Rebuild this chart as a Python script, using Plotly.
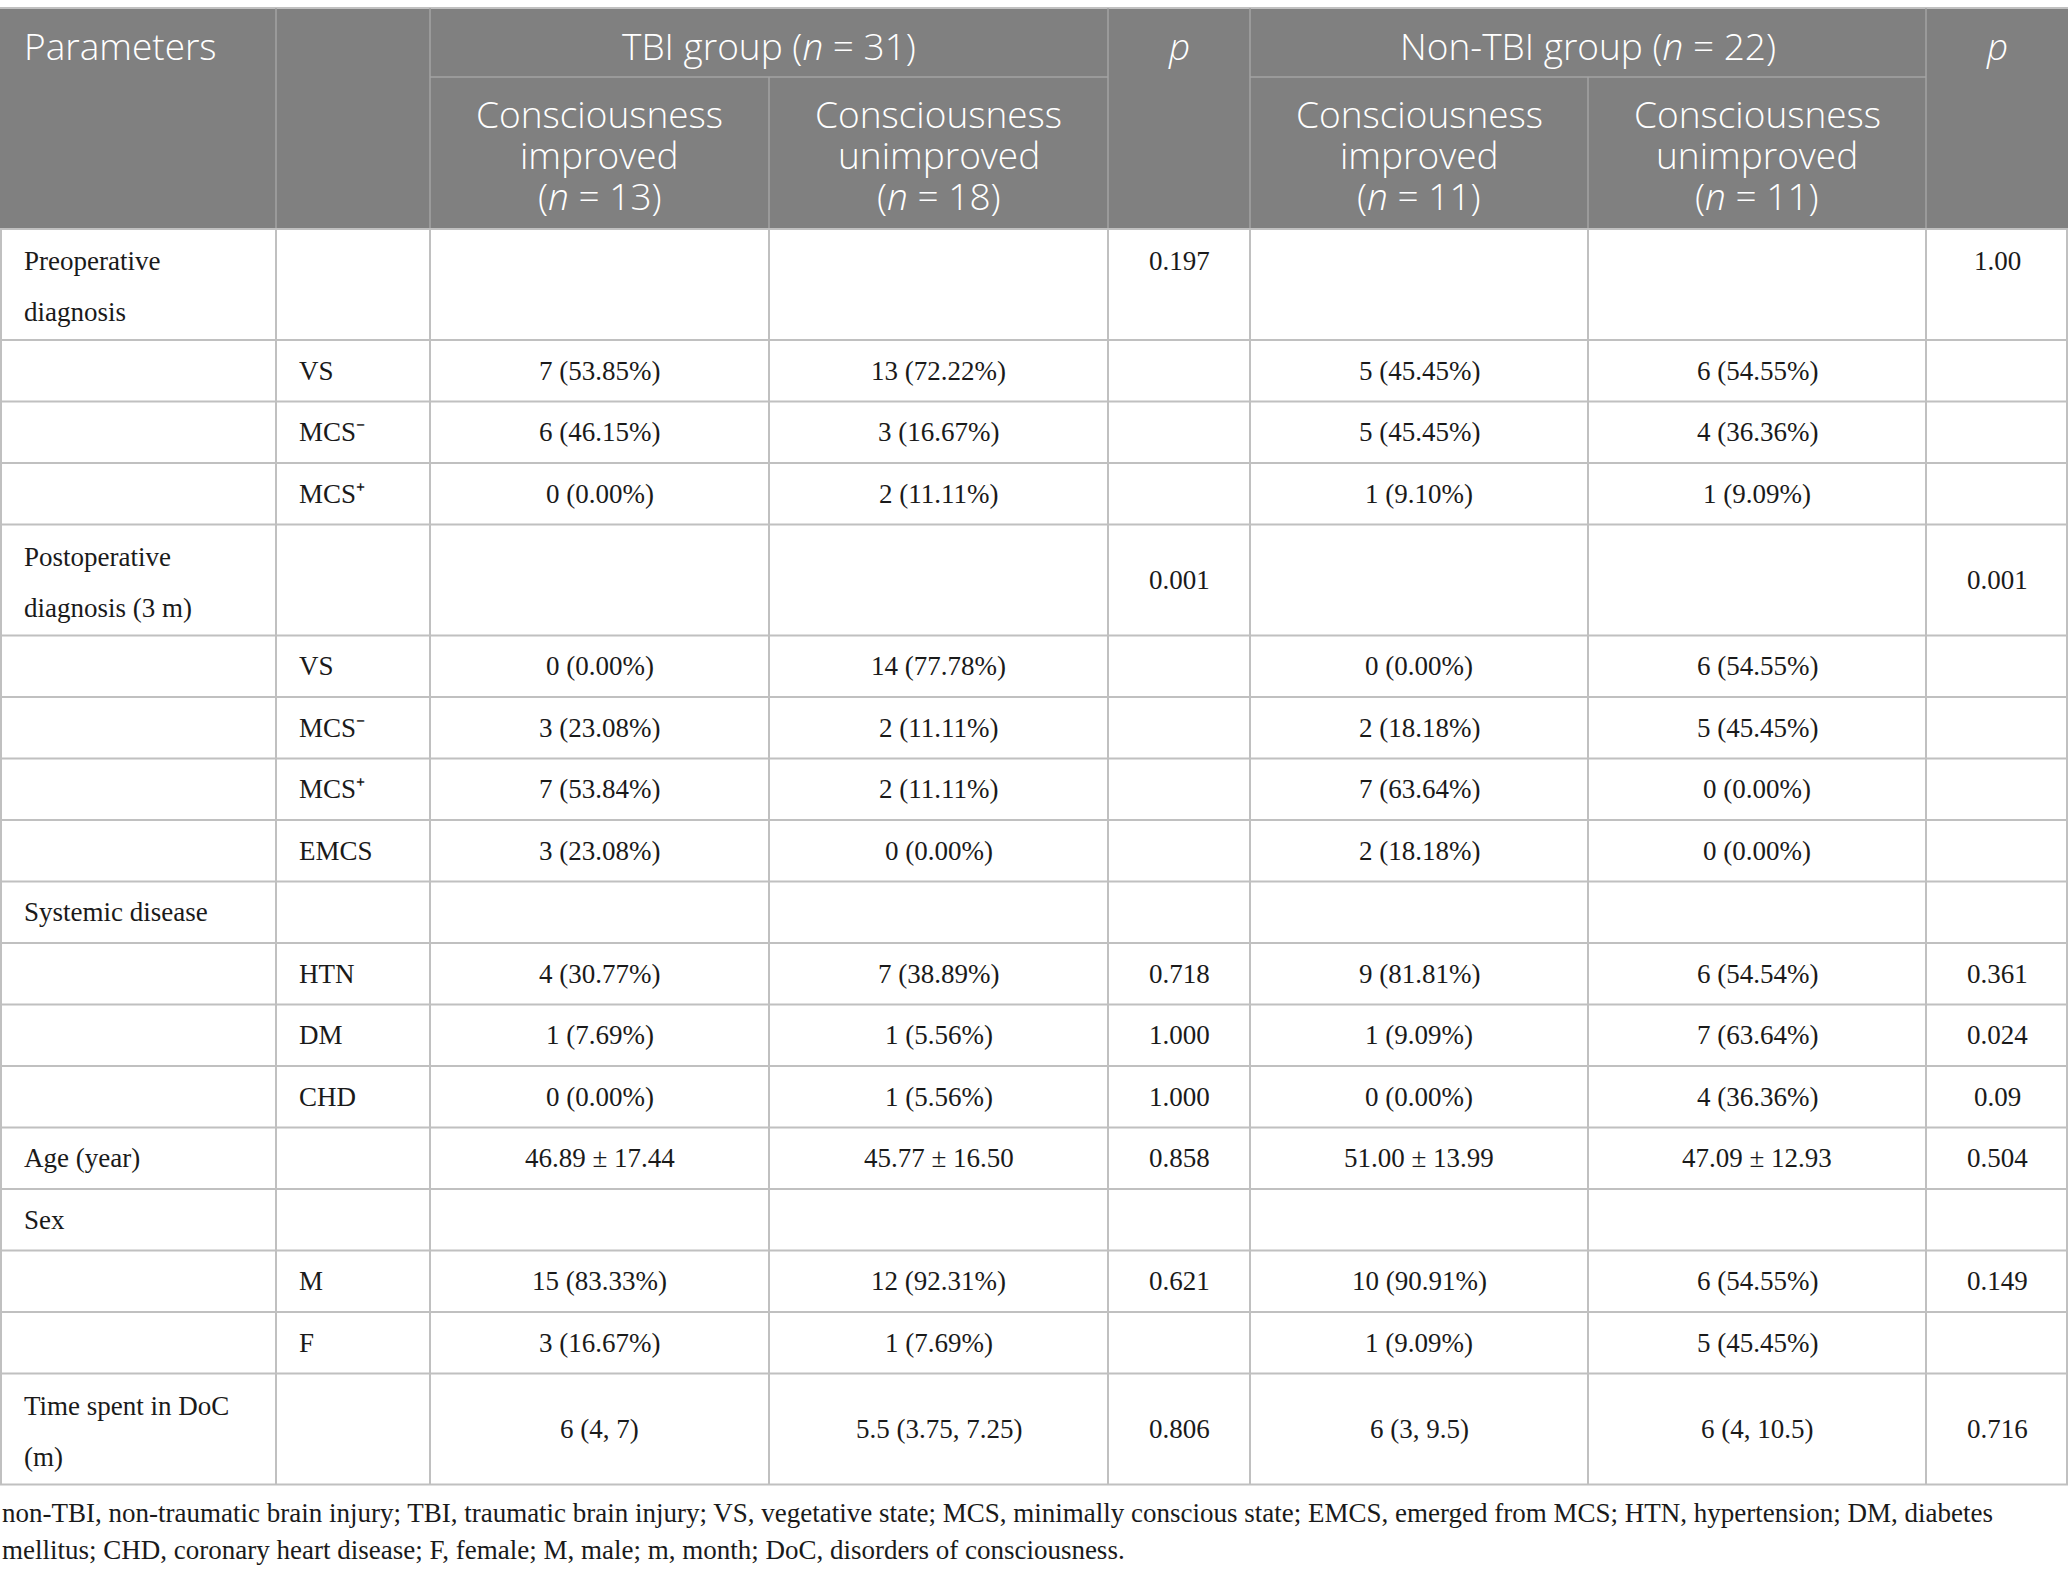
import plotly.graph_objects as go

# ---- table content ----
params = ["Preoperative\ndiagnosis", "", "", "", "Postoperative\ndiagnosis (3 m)", "", "", "", "",
          "Systemic disease", "", "", "", "Age (year)", "Sex", "", "", "Time spent in DoC\n(m)"]
sub_params = ["", "VS", "MCS⁻", "MCS⁺", "", "VS", "MCS⁻", "MCS⁺", "EMCS",
              "", "HTN", "DM", "CHD", "", "", "M", "F", ""]
tbi_improved = ["", "7 (53.85%)", "6 (46.15%)", "0 (0.00%)", "", "0 (0.00%)", "3 (23.08%)", "7 (53.84%)",
                "3 (23.08%)", "", "4 (30.77%)", "1 (7.69%)", "0 (0.00%)", "46.89 ± 17.44", "",
                "15 (83.33%)", "3 (16.67%)", "6 (4, 7)"]
tbi_unimproved = ["", "13 (72.22%)", "3 (16.67%)", "2 (11.11%)", "", "14 (77.78%)", "2 (11.11%)", "2 (11.11%)",
                  "0 (0.00%)", "", "7 (38.89%)", "1 (5.56%)", "1 (5.56%)", "45.77 ± 16.50", "",
                  "12 (92.31%)", "1 (7.69%)", "5.5 (3.75, 7.25)"]
tbi_p = ["0.197", "", "", "", "0.001", "", "", "", "", "", "0.718", "1.000", "1.000", "0.858", "",
         "0.621", "", "0.806"]
non_improved = ["", "5 (45.45%)", "5 (45.45%)", "1 (9.10%)", "", "0 (0.00%)", "2 (18.18%)", "7 (63.64%)",
                "2 (18.18%)", "", "9 (81.81%)", "1 (9.09%)", "0 (0.00%)", "51.00 ± 13.99", "",
                "10 (90.91%)", "1 (9.09%)", "6 (3, 9.5)"]
non_unimproved = ["", "6 (54.55%)", "4 (36.36%)", "1 (9.09%)", "", "6 (54.55%)", "5 (45.45%)", "0 (0.00%)",
                  "0 (0.00%)", "", "6 (54.54%)", "7 (63.64%)", "4 (36.36%)", "47.09 ± 12.93", "",
                  "6 (54.55%)", "5 (45.45%)", "6 (4, 10.5)"]
non_p = ["1.00", "", "", "", "0.001", "", "", "", "", "", "0.361", "0.024", "0.09", "0.504", "",
         "0.149", "", "0.716"]

group_titles = ["TBI group (<i>n</i> = 31)", "Non-TBI group (<i>n</i> = 22)"]
sub_headers = [["Consciousness", "improved", "(<i>n</i> = 13)"],
               ["Consciousness", "unimproved", "(<i>n</i> = 18)"],
               ["Consciousness", "improved", "(<i>n</i> = 11)"],
               ["Consciousness", "unimproved", "(<i>n</i> = 11)"]]
footnote = ["non-TBI, non-traumatic brain injury; TBI, traumatic brain injury; VS, vegetative state; MCS, "
            "minimally conscious state; EMCS, emerged from MCS; HTN, hypertension; DM, diabetes",
            "mellitus; CHD, coronary heart disease; F, female; M, male; m, month; DoC, disorders of consciousness."]

# ---- geometry (pixels) ----
W, H = 2068, 1578
col_edges = [0, 276, 430, 769, 1108, 1250, 1588, 1926, 2068]
head_top, head_mid, head_bot = 8, 77, 229
short_h, tall_h = 61.5, 111
row_tall = [len(p.split("\n")) > 1 for p in params]
p_top_rows = {0}          # p value sits on the first text line in these rows

row_edges = [head_bot]
for t in row_tall:
    row_edges.append(row_edges[-1] + (tall_h if t else short_h))

HEAD_BG = "#808080"
HEAD_LINE = "#a3a3a3"
GRID = "#c0c0c0"
SANS = "Open Sans"
SERIF = "Liberation Serif"
BODY_SIZE = 27
HEAD_SIZE = 37

fig = go.Figure()
shapes = []
annotations = []


def hline(y, x0, x1, color, width):
    shapes.append(dict(type="line", xref="x", yref="y", x0=x0, x1=x1, y0=y, y1=y,
                       line=dict(color=color, width=width)))


def vline(x, y0, y1, color, width):
    shapes.append(dict(type="line", xref="x", yref="y", x0=x, x1=x, y0=y0, y1=y1,
                       line=dict(color=color, width=width)))


def text(x, y, s, anchor="center", font=SERIF, size=BODY_SIZE, color="#1a1a1a", weight=None):
    f = dict(family=font, size=size, color=color)
    if weight:
        f["weight"] = weight
    annotations.append(dict(x=x, y=y, xref="x", yref="y", text=s, showarrow=False,
                            xanchor=anchor, yanchor="middle", font=f))


def head_text(x, y, s, anchor="center"):
    text(x, y, s, anchor, SANS, HEAD_SIZE, "white", weight=300)


# header block
shapes.append(dict(type="rect", xref="x", yref="y", x0=0, x1=W, y0=head_top, y1=head_bot,
                   fillcolor=HEAD_BG, line=dict(width=0), layer="below"))
hline(head_top, 0, W, GRID, 2)
for x in [col_edges[1], col_edges[2], col_edges[4], col_edges[5], col_edges[7]]:
    vline(x, head_top, head_bot, HEAD_LINE, 1.5)
for x in [col_edges[3], col_edges[6]]:
    vline(x, head_mid, head_bot, HEAD_LINE, 1.5)
hline(head_mid, col_edges[2], col_edges[4], HEAD_LINE, 1.5)
hline(head_mid, col_edges[5], col_edges[7], HEAD_LINE, 1.5)

centers = [(col_edges[i] + col_edges[i + 1]) / 2 for i in range(len(col_edges) - 1)]
head_row1 = 45
head_text(22, head_row1, "Parameters", "left")
head_text((col_edges[2] + col_edges[4]) / 2, head_row1, group_titles[0])
head_text((col_edges[5] + col_edges[7]) / 2, head_row1, group_titles[1])
head_text(centers[4], head_row1, "<i>p</i>")
head_text(centers[7], head_row1, "<i>p</i>")
for col, lines in zip([2, 3, 5, 6], sub_headers):
    for k, s in enumerate(lines):
        head_text(centers[col], 113 + 41 * k, s)

# body grid
for y in row_edges:
    hline(y, 0, W, GRID, 2)
for x in col_edges:
    xx = min(max(x, 1), W - 1)
    vline(xx, head_bot, row_edges[-1], GRID, 2)

# body text
value_cols = [(2, tbi_improved), (3, tbi_unimproved), (4, tbi_p),
              (5, non_improved), (6, non_unimproved), (7, non_p)]
for i in range(len(params)):
    top, bot = row_edges[i], row_edges[i + 1]
    mid = (top + bot) / 2
    first_line = top + 32
    lines = params[i].split("\n")
    if len(lines) > 1:
        for k, s in enumerate(lines):
            text(22, first_line + 51 * k, s, "left")
    elif lines[0]:
        text(22, mid, lines[0], "left")
    if sub_params[i]:
        text(297, mid, sub_params[i], "left")
    for col, vals in value_cols:
        if not vals[i]:
            continue
        y = first_line if (col in (4, 7) and i in p_top_rows) else mid
        text(centers[col], y, vals[i])

# footnote
for k, s in enumerate(footnote):
    text(0, 1513 + 37 * k, s, "left", SERIF, 27)

fig.update_layout(
    width=W, height=H,
    margin=dict(l=0, r=0, t=0, b=0),
    paper_bgcolor="white", plot_bgcolor="white",
    xaxis=dict(range=[0, W], visible=False, fixedrange=True),
    yaxis=dict(range=[H, 0], visible=False, fixedrange=True),
    shapes=shapes, annotations=annotations,
    showlegend=False,
)

# page body margin would shift the table off the reference grid
fig.write_html("out.html", config={"displayModeBar": False},
               post_script="document.body.style.margin='0';document.body.style.overflow='hidden';")
